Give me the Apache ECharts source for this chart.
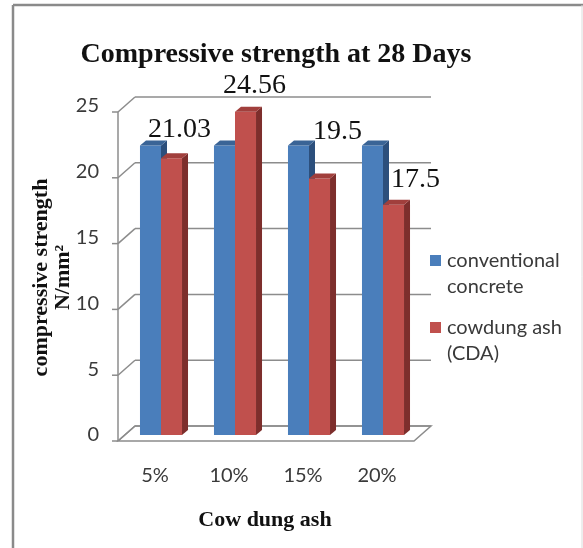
<!DOCTYPE html>
<html>
<head>
<meta charset="utf-8">
<script src="https://cdn.jsdelivr.net/npm/echarts@6/dist/echarts.min.js"></script>
<style>
  html, body { margin: 0; padding: 0; background: #fff; }
  #chart { width: 583px; height: 548px; }
</style>
</head>
<body>
<div id="chart"></div>
<script>
// Compressive strength at 28 days, conventional concrete vs cow dung ash mixes
const categories = ['5%', '10%', '15%', '20%'];
const seriesNames = ['conventional concrete', 'cowdung ash (CDA)'];
const conventional = [22, 22, 22, 22];
const cowdungAsh = [21.03, 24.56, 19.5, 17.5];
const yTicks = [0, 5, 10, 15, 20, 25];

const SERIF = '"Liberation Serif", "Times New Roman", serif';
const SANS = 'Lato, "Liberation Sans", sans-serif';
const GRID_LINE = '#8c8c8c';

// pseudo-3D offsets relative to the plane the bars stand in
const FRONT = [-6, 6];
const BACK = [11, -9];
const DEPTH = [6, -5];

const palettes = [
  { front: '#4a7ebb', side: '#2c4f7c', top: '#3a6496' },
  { front: '#c0504d', side: '#7d2e2c', top: '#a13f3c' }
];
// label nudges for the CDA value labels
const labelNudge = [[8, -29], [9, -26], [18, -47], [22, -25]];

const chart = echarts.init(document.getElementById('chart'));

function wallRenderer(params, api) {
  const cs = params.coordSys;
  const v = api.value(1);
  const y = api.coord([0, v])[1];
  const L = cs.x, R = cs.x + cs.width;
  const style = { stroke: GRID_LINE, lineWidth: 1.5, fill: null };
  const kids = [
    { type: 'line', shape: { x1: L + FRONT[0] - 6, y1: y + FRONT[1], x2: L + FRONT[0], y2: y + FRONT[1] }, style },
    { type: 'line', shape: { x1: L + FRONT[0], y1: y + FRONT[1], x2: L + BACK[0], y2: y + BACK[1] }, style },
    { type: 'line', shape: { x1: L + BACK[0], y1: y + BACK[1], x2: R + BACK[0], y2: y + BACK[1] }, style }
  ];
  if (params.dataIndex === 0) {
    // floor outline and front vertical axis
    const topY = api.coord([0, yTicks[yTicks.length - 1]])[1];
    kids.push({
      type: 'polygon',
      shape: { points: [
        [L + FRONT[0], y + FRONT[1]], [R + FRONT[0], y + FRONT[1]],
        [R + BACK[0], y + BACK[1]], [L + BACK[0], y + BACK[1]]
      ] },
      style
    });
    kids.push({ type: 'line', shape: { x1: L + FRONT[0], y1: y + FRONT[1], x2: L + FRONT[0], y2: topY + FRONT[1] }, style });
  }
  return { type: 'group', children: kids };
}

function barRenderer(side) {
  const pal = palettes[side];
  return function (params, api) {
    const idx = api.value(0);
    const val = api.value(1);
    const top = api.coord([idx, val]);
    const base = api.coord([idx, 0]);
    const w = api.size([1, 0])[0] * 0.284;
    const x0 = side === 0 ? top[0] - w : top[0];
    const x1 = x0 + w;
    const yT = top[1], yB = base[1];
    const kids = [
      { type: 'rect', shape: { x: x0, y: yT, width: w, height: yB - yT }, style: { fill: pal.front } },
      { type: 'polygon', shape: { points: [[x1, yT], [x1 + DEPTH[0], yT + DEPTH[1]], [x1 + DEPTH[0], yB + DEPTH[1]], [x1, yB]] }, style: { fill: pal.side } },
      { type: 'polygon', shape: { points: [[x0, yT], [x0 + DEPTH[0], yT + DEPTH[1]], [x1 + DEPTH[0], yT + DEPTH[1]], [x1, yT]] }, style: { fill: pal.top } }
    ];
    if (side === 1) {
      const n = labelNudge[params.dataIndex];
      kids.push({
        type: 'text',
        z2: 10,
        style: {
          text: String(val), x: x0 + w / 2 + n[0], y: yT + n[1],
          align: 'center', verticalAlign: 'middle',
          font: '28px ' + SERIF, fill: '#111'
        }
      });
    }
    return { type: 'group', children: kids };
  };
}

const legendGraphics = [];
seriesNames.forEach(function (name, i) {
  const top = 255 + i * 67;
  legendGraphics.push({ type: 'rect', left: 430, top: top, shape: { width: 11, height: 11 }, style: { fill: palettes[i].front } });
  legendGraphics.push({
    type: 'text', left: 447, top: top - 7,
    style: { text: name, width: 125, overflow: 'break', font: '20px ' + SANS, fill: '#3a3a3a', lineHeight: 26 }
  });
});

const option = {
  animation: false,
  backgroundColor: '#fff',
  title: {
    text: 'Compressive strength at 28 Days',
    left: 271, top: 36, textAlign: 'center',
    textStyle: { fontFamily: SERIF, fontWeight: 'bold', fontSize: 28, color: '#111' }
  },
  grid: { left: 124, width: 296, top: 106, bottom: 113 },
  xAxis: {
    type: 'category',
    data: categories,
    name: 'Cow dung ash',
    nameLocation: 'middle',
    nameGap: 74,
    nameTextStyle: { fontFamily: SERIF, fontWeight: 'bold', fontSize: 22, color: '#111', padding: [0, 14, 0, 0] },
    axisLine: { show: false },
    axisTick: { show: false },
    axisLabel: { margin: 31, fontFamily: SANS, fontSize: 20, color: '#3a3a3a', padding: [0, 12, 0, 0] }
  },
  yAxis: {
    type: 'value',
    min: 0, max: 25, interval: 5,
    name: 'compressive strength\nN/mm²',
    nameLocation: 'middle',
    nameRotate: 90,
    nameGap: 50,
    nameMoveOverlap: false,
    nameTextStyle: { fontFamily: SERIF, fontWeight: 'bold', fontSize: 22, color: '#111', lineHeight: 22, padding: [0, 14, 0, 0] },
    axisLine: { show: false },
    axisTick: { show: false },
    splitLine: { show: false },
    axisLabel: { margin: 25, fontFamily: SANS, fontSize: 20, color: '#3a3a3a', padding: [12, 0, 0, 0] }
  },
  graphic: [
    { type: 'line', shape: { x1: 13, y1: 5, x2: 13, y2: 548 }, style: { stroke: '#8a8a8a', lineWidth: 2.5 } },
    { type: 'line', shape: { x1: 13, y1: 5, x2: 583, y2: 5 }, style: { stroke: '#8a8a8a', lineWidth: 2.5 } },
    { type: 'line', shape: { x1: 582, y1: 5, x2: 582, y2: 548 }, style: { stroke: '#dcdcdc', lineWidth: 1 } }
  ].concat(legendGraphics),
  series: [
    {
      type: 'custom', name: 'wall', z: 1, silent: true,
      renderItem: wallRenderer,
      encode: { x: 0, y: 1 },
      data: yTicks.map(function (t) { return [0, t]; })
    },
    {
      type: 'custom', name: seriesNames[0], z: 2,
      renderItem: barRenderer(0),
      encode: { x: 0, y: 1 },
      data: conventional.map(function (v, i) { return [i, v]; })
    },
    {
      type: 'custom', name: seriesNames[1], z: 3,
      renderItem: barRenderer(1),
      encode: { x: 0, y: 1 },
      data: cowdungAsh.map(function (v, i) { return [i, v]; })
    }
  ]
};

chart.setOption(option);
</script>
</body>
</html>
